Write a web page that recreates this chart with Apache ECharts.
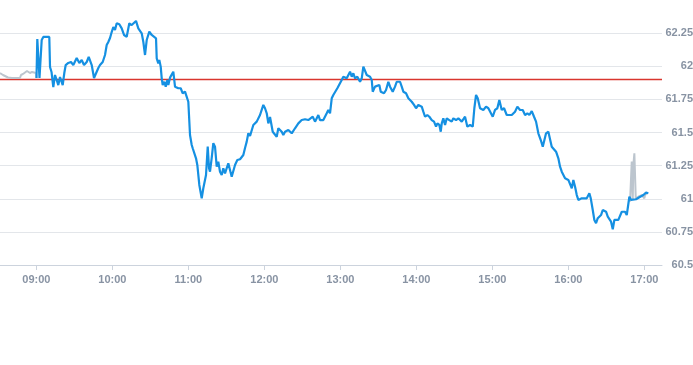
<!DOCTYPE html>
<html>
<head>
<meta charset="utf-8">
<script src="https://cdn.jsdelivr.net/npm/echarts@6/dist/echarts.min.js"></script>
<style>
html,body{margin:0;padding:0;background:#fff;}
#c{width:693px;height:365px;}
</style>
</head>
<body>
<div id="c"></div>
<script>
var day = '2024-01-02 ';
var prevClose = 61.9;
var yTicks = [60.5, 60.75, 61, 61.25, 61.5, 61.75, 62, 62.25];
var axisStart = '08:31:18';
var axisEnd = '17:13:54';

var preTimes = ['08:31:18','08:33:40','08:37:37','08:40:46','08:47:05','08:47:53','08:49:28','08:51:02','08:52:37','08:53:25','08:54:59','08:56:34','08:58:08','08:59:43','09:00:07'];
var preValues = [61.949,61.934,61.915,61.911,61.911,61.934,61.942,61.957,61.964,61.957,61.949,61.957,61.957,61.949,61.911];

var mainTimes = ['09:00:07','09:00:45','09:02:29','09:04:13','09:05:29','09:10:13','09:10:47','09:11:58','09:13:23','09:14:43','09:16:04','09:17:20','09:18:40','09:20:48','09:22:04','09:23:10','09:25:13','09:27:21','09:29:10','09:31:51','09:33:55','09:35:48','09:37:37','09:39:45','09:41:20','09:43:42','09:45:31','09:47:05','09:48:55','09:50:15','09:52:23','09:54:12','09:55:32','09:56:48','09:58:09','09:59:29','10:00:45','10:02:05','10:03:26','10:05:29','10:07:23','10:09:12','10:11:20','10:13:23','10:15:17','10:16:32','10:18:40','10:20:29','10:23:10','10:24:26','10:25:47','10:27:07','10:29:10','10:31:04','10:32:20','10:34:28','10:35:01','10:36:16','10:37:04','10:38:10','10:38:58','10:39:45','10:41:01','10:42:07','10:43:23','10:44:10','10:45:31','10:46:52','10:48:07','10:49:28','10:50:49','10:52:04','10:53:58','10:55:32','10:57:22','10:58:42','10:59:58','11:01:18','11:02:39','11:03:26','11:04:28','11:06:02','11:07:04','11:08:39','11:10:32','11:11:48','11:13:56','11:15:17','11:16:19','11:17:05','11:18:26','11:19:42','11:21:02','11:22:23','11:23:38','11:24:59','11:26:20','11:27:35','11:28:56','11:31:32','11:32:53','11:34:13','11:36:50','11:38:39','11:40:47','11:43:23','11:44:44','11:46:04','11:47:20','11:48:41','11:50:01','11:51:17','11:53:58','11:56:34','11:59:11','12:00:31','12:01:52','12:03:08','12:04:28','12:06:36','12:07:37','12:09:45','12:11:01','12:11:48','12:13:42','12:14:58','12:16:19','12:18:55','12:20:16','12:21:36','12:24:12','12:26:49','12:29:29','12:32:06','12:34:42','12:36:03','12:38:11','12:39:59','12:42:36','12:43:56','12:46:33','12:49:14','12:50:29','12:51:50','12:53:11','12:54:26','12:55:47','12:57:36','13:01:04','13:02:20','13:05:01','13:06:17','13:07:38','13:08:58','13:10:14','13:11:34','13:13:23','13:15:31','13:16:52','13:18:08','13:19:28','13:20:49','13:23:25','13:24:46','13:25:33','13:27:22','13:28:43','13:30:46','13:31:52','13:33:26','13:34:28','13:36:03','13:37:52','13:39:13','13:41:20','13:43:09','13:44:29','13:47:06','13:48:26','13:49:43','13:51:50','13:53:39','13:56:20','13:58:09','13:59:44','14:01:33','14:02:53','14:04:14','14:05:30','14:06:50','14:08:39','14:10:14','14:12:08','14:13:56','14:15:31','14:16:33','14:18:08','14:19:14','14:20:02','14:21:17','14:22:38','14:23:58','14:26:01','14:27:55','14:29:11','14:31:19','14:33:08','14:35:49','14:37:05','14:38:25','14:40:14','14:42:22','14:44:30','14:45:46','14:47:06','14:48:26','14:50:16','14:52:52','14:55:00','14:56:49','14:58:10','15:00:17','15:02:06','15:03:55','15:05:30','15:07:23','15:09:13','15:11:20','15:12:36','15:15:17','15:17:53','15:19:43','15:21:50','15:23:58','15:25:47','15:27:36','15:29:11','15:31:05','15:32:53','15:34:28','15:36:17','15:38:11','15:39:46','15:40:47','15:42:22','15:44:11','15:45:31','15:46:52','15:48:08','15:50:16','15:52:05','15:53:25','15:54:46','15:56:02','15:57:22','15:58:43','15:59:58','16:01:19','16:02:40','16:03:55','16:05:16','16:06:37','16:07:52','16:09:13','16:10:33','16:11:49','16:14:30','16:16:33','16:17:40','16:19:14','16:20:30','16:21:50','16:23:11','16:24:27','16:25:47','16:27:08','16:28:10','16:29:44','16:31:05','16:32:20','16:33:41','16:35:02','16:36:17','16:37:38','16:39:27','16:40:47','16:42:08','16:43:24','16:44:44','16:46:05','16:47:20','16:48:08','16:49:28','16:50:49','16:53:25','16:56:01','16:59:11','17:01:18','17:03:07'];
var mainValues = [61.911,62.206,61.911,62.198,62.221,62.221,61.994,61.957,61.843,61.934,61.896,61.858,61.919,61.858,61.949,62.009,62.025,62.032,62.009,62.062,62.025,62.047,62.009,62.032,62.070,62.009,61.911,61.911,61.987,62.009,62.032,62.085,62.160,62.183,62.213,62.258,62.296,62.274,62.324,62.317,62.286,62.236,62.223,62.324,62.311,62.324,62.342,62.286,62.249,62.185,62.085,62.198,62.261,62.236,62.236,62.211,62.060,62.022,62.047,61.997,61.909,61.858,61.883,61.846,61.896,61.858,61.914,61.909,61.959,61.846,61.846,61.834,61.834,61.796,61.808,61.821,61.732,61.481,61.406,61.381,61.393,61.305,61.255,61.104,61.003,61.079,61.179,61.393,61.230,61.204,61.308,61.419,61.393,61.242,61.280,61.204,61.179,61.230,61.192,61.268,61.280,61.166,61.255,61.292,61.298,61.330,61.383,61.431,61.494,61.474,61.481,61.557,61.582,61.632,61.708,61.683,61.645,61.569,61.617,61.506,61.511,61.468,61.532,61.532,61.506,61.481,61.506,61.519,61.519,61.494,61.532,61.569,61.594,61.600,61.594,61.582,61.619,61.582,61.632,61.594,61.594,61.645,61.670,61.645,61.758,61.783,61.783,61.834,61.896,61.921,61.909,61.896,61.959,61.921,61.947,61.909,61.921,61.883,61.909,61.997,61.985,61.934,61.921,61.896,61.808,61.846,61.834,61.858,61.808,61.821,61.796,61.821,61.883,61.846,61.808,61.846,61.883,61.883,61.846,61.808,61.796,61.758,61.732,61.708,61.683,61.708,61.720,61.695,61.657,61.619,61.632,61.619,61.594,61.582,61.544,61.569,61.557,61.506,61.569,61.607,61.557,61.607,61.594,61.582,61.607,61.594,61.607,61.582,61.594,61.619,61.544,61.557,61.544,61.683,61.783,61.758,61.683,61.670,61.695,61.683,61.683,61.619,61.670,61.683,61.745,61.670,61.683,61.632,61.619,61.632,61.657,61.695,61.670,61.670,61.632,61.645,61.632,61.662,61.619,61.582,61.494,61.443,61.393,61.381,61.494,61.506,61.494,61.393,61.381,61.355,61.305,61.242,61.204,61.192,61.154,61.166,61.142,61.129,61.079,61.142,61.091,61.028,60.991,60.978,61.003,61.003,61.003,61.041,61.003,60.915,60.840,60.815,60.853,60.840,60.877,60.915,60.902,60.902,60.865,60.853,60.827,60.769,60.840,60.840,60.840,60.853,60.902,60.902,60.902,60.877,60.865,61.015,60.991,60.978,60.996,61.011,61.028,61.046,61.041];

var postTimes = ['16:48:41','16:50:01','16:50:49','16:51:17','16:52:05','16:53:11','16:55:14','16:57:55','16:59:58','17:00:32','17:01:52'];
var postValues = [60.978,61.280,60.991,61.255,61.343,61.003,61.015,61.028,61.003,61.028,61.041];

function pairs(times, values) {
  return times.map(function (t, i) { return [day + t, values[i]]; });
}
function pad(n) { return (n < 10 ? '0' : '') + n; }

var labelStyle = {
  color: '#8893a3',
  fontSize: 11,
  fontWeight: 'bold',
  fontFamily: 'Arial, Liberation Sans, sans-serif'
};

var chart = echarts.init(document.getElementById('c'), null, {renderer: 'canvas'});
chart.setOption({
  animation: false,
  backgroundColor: '#ffffff',
  grid: {left: 0, right: 31, top: 0, bottom: 100, containLabel: false, outerBoundsMode: 'none'},
  xAxis: {
    type: 'time',
    min: day + axisStart,
    max: day + axisEnd,
    minInterval: 3600 * 1000,
    maxInterval: 3600 * 1000,
    axisLine: {show: true, lineStyle: {color: '#ccd3dd', width: 1}},
    axisTick: {show: true, length: 5, lineStyle: {color: '#ccd3dd'}},
    splitLine: {show: false},
    axisLabel: Object.assign({}, labelStyle, {
      margin: 9,
      formatter: function (v) {
        var d = new Date(v);
        if (d.getMinutes() !== 0 || d.getSeconds() !== 0) return '';
        return pad(d.getHours()) + ':' + pad(d.getMinutes());
      }
    })
  },
  yAxis: {
    type: 'value',
    position: 'right',
    min: yTicks[0],
    max: 62.5,
    interval: yTicks[1] - yTicks[0],
    axisLine: {show: false},
    axisTick: {show: false},
    splitLine: {show: true, showMaxLine: false, lineStyle: {color: '#e3e6ea', width: 1}},
    axisLabel: Object.assign({}, labelStyle, {
      align: 'right',
      margin: 31,
      showMaxLabel: false
    })
  },
  series: [
    {
      type: 'line', data: pairs(preTimes, preValues), showSymbol: false, z: 2,
      lineStyle: {color: '#bcc5ce', width: 2}
    },
    {
      type: 'line', data: pairs(postTimes, postValues), showSymbol: false, z: 2,
      lineStyle: {color: '#bcc5ce', width: 2}
    },
    {
      type: 'line', data: pairs(mainTimes, mainValues), showSymbol: false, z: 3,
      lineStyle: {color: '#1590e2', width: 2.2}
    },
    {
      type: 'line', data: [[day + axisStart, prevClose], [day + axisEnd, prevClose]],
      showSymbol: false, z: 1, silent: true,
      lineStyle: {color: '#d9362e', width: 1.5}
    }
  ]
});
</script>
</body>
</html>
